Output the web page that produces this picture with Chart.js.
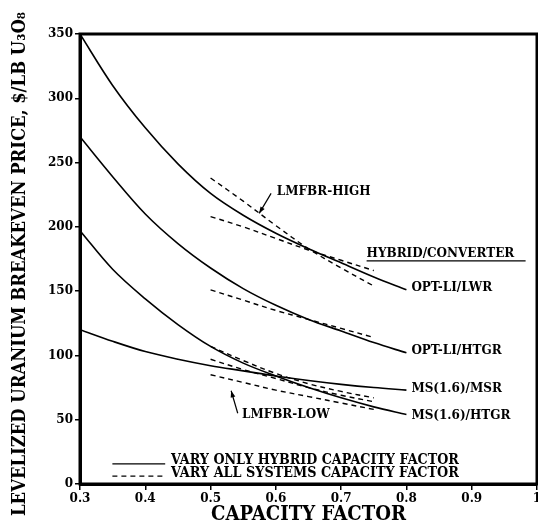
<!DOCTYPE html>
<html>
<head>
<meta charset="utf-8">
<script src="https://cdn.jsdelivr.net/npm/chart.js@4"></script>
<style>
  html, body { margin: 0; padding: 0; background: #fff; }
  canvas { display: block; }
</style>
</head>
<body>
<canvas id="breakevenChart" width="538" height="530"></canvas>
<script>
// Capacity factor values for the solid curves
const capacity = [0.3, 0.35, 0.4, 0.45, 0.5, 0.55, 0.6, 0.65, 0.7, 0.75, 0.8];

// Solid curves: vary only hybrid capacity factor ($/lb U3O8)
const optLiLwr = [350, 310, 277, 249, 226, 209, 195, 183, 172, 161, 151];
const optLiHtgr = [270, 239, 210, 187, 168, 152, 139, 128, 119, 110, 102];
const msMsr = [120, 111, 103, 97, 92, 88, 84, 80.5, 77.5, 75, 73];
const msHtgr = [197, 167, 144, 124, 107, 94, 84, 75, 67, 60, 54];

// Dashed curves: vary all systems capacity factor
const dashedCapacity = [0.5, 0.55, 0.6, 0.65, 0.7, 0.75];
const lwrHigh = [238, 220, 201, 183, 168, 154];
const lwrLow = [208, 200, 191, 182, 174, 166];
const htgrAll = [151, 143, 135, 128, 121, 114];
const msHtgrAll = [107, 96, 86, 78, 72, 67];
const msMsrAll = [97, 89, 82, 75, 69, 64];
const lmfbrLow = [85, 79, 73, 68, 63, 58];

// Axis ticks
const xTicks = [0.3, 0.4, 0.5, 0.6, 0.7, 0.8, 0.9, 1];
const yTicks = [0, 50, 100, 150, 200, 250, 300, 350];

// Text labels on the plot, placed in data units
const labelTexts = ['LMFBR-HIGH', 'HYBRID/CONVERTER', 'OPT-LI/LWR', 'OPT-LI/HTGR', 'MS(1.6)/MSR', 'MS(1.6)/HTGR', 'LMFBR-LOW'];
const labelX = [0.6015, 0.739, 0.8076, 0.8076, 0.8076, 0.8076, 0.5481];
const labelY = [227, 179, 152.5, 103.4, 73.9, 52.9, 53.7];
const labelWidths = [100, 159, 95, 104, 105, 105, 90];

const legendTexts = ['VARY ONLY HYBRID CAPACITY FACTOR', 'VARY ALL SYSTEMS CAPACITY FACTOR'];

function toPoints(xs, ys) {
    return xs.map((x, i) => ({ x: x, y: ys[i] }));
}

function solid(data) {
    return {
        data: data,
        borderColor: '#000',
        borderWidth: 1.6,
        pointRadius: 0,
        fill: false,
        tension: 0.35
    };
}

function dashed(data) {
    const ds = solid(data);
    ds.borderDash = [5, 4];
    ds.borderWidth = 1.4;
    return ds;
}

function arrow(ctx, x1, y1, x2, y2) {
    ctx.beginPath();
    ctx.moveTo(x1, y1);
    ctx.lineTo(x2, y2);
    ctx.stroke();
    const ang = Math.atan2(y2 - y1, x2 - x1);
    ctx.beginPath();
    ctx.moveTo(x2, y2);
    ctx.lineTo(x2 - 7 * Math.cos(ang - 0.35), y2 - 7 * Math.sin(ang - 0.35));
    ctx.lineTo(x2 - 7 * Math.cos(ang + 0.35), y2 - 7 * Math.sin(ang + 0.35));
    ctx.closePath();
    ctx.fill();
}

const serif = '"DejaVu Serif", "Liberation Serif", serif';

const overlay = {
    id: 'overlay',
    beforeDraw(chart) {
        const ctx = chart.ctx;
        ctx.save();
        ctx.fillStyle = '#fff';
        ctx.fillRect(0, 0, chart.width, chart.height);
        ctx.restore();
    },
    afterDraw(chart) {
        const { ctx, chartArea: a, scales: { x, y } } = chart;
        ctx.save();
        ctx.strokeStyle = '#000';
        ctx.fillStyle = '#000';

        // frame round the plot
        ctx.lineWidth = 3;
        ctx.strokeRect(a.left, a.top, a.right - a.left, a.bottom - a.top);

        // labels
        ctx.font = 'bold 12px ' + serif;
        ctx.textBaseline = 'middle';
        ctx.textAlign = 'left';
        labelTexts.forEach((t, i) => {
            ctx.fillText(t, x.getPixelForValue(labelX[i]), y.getPixelForValue(labelY[i]), labelWidths[i]);
        });
        // underline of HYBRID/CONVERTER
        ctx.lineWidth = 1.2;
        ctx.beginPath();
        const ux = x.getPixelForValue(labelX[1]);
        const uy = y.getPixelForValue(labelY[1]) + 7;
        ctx.moveTo(ux, uy);
        ctx.lineTo(ux + labelWidths[1], uy);
        ctx.stroke();

        // arrows to the LMFBR curves
        ctx.lineWidth = 1.2;
        arrow(ctx, x.getPixelForValue(0.5927), y.getPixelForValue(226), x.getPixelForValue(0.5745), y.getPixelForValue(210.5));
        arrow(ctx, x.getPixelForValue(0.5416), y.getPixelForValue(55), x.getPixelForValue(0.5315), y.getPixelForValue(72.5));

        // legend
        const lx1 = x.getPixelForValue(0.3496), lx2 = x.getPixelForValue(0.4305);
        ctx.lineWidth = 1.3;
        ctx.beginPath();
        ctx.moveTo(lx1, y.getPixelForValue(15.6));
        ctx.lineTo(lx2, y.getPixelForValue(15.6));
        ctx.stroke();
        ctx.setLineDash([5, 4]);
        ctx.beginPath();
        ctx.moveTo(lx1, y.getPixelForValue(6.2));
        ctx.lineTo(lx2, y.getPixelForValue(6.2));
        ctx.stroke();
        ctx.setLineDash([]);
        ctx.font = 'bold 14px ' + serif;
        ctx.fillText(legendTexts[0], x.getPixelForValue(0.4392), y.getPixelForValue(18.3), 288);
        ctx.fillText(legendTexts[1], x.getPixelForValue(0.4392), y.getPixelForValue(8.6), 288);

        // axis titles
        ctx.textAlign = 'center';
        ctx.font = 'bold 20px ' + serif;
        ctx.fillText('CAPACITY FACTOR', (a.left + a.right) / 2, 515, 195);
        ctx.translate(20, 264);
        ctx.rotate(-Math.PI / 2);
        ctx.font = 'bold 19px ' + serif;
        ctx.fillText('LEVELIZED URANIUM BREAKEVEN PRICE, $/LB U\u2083O\u2088', 0, 0, 504);
        ctx.restore();
    }
};

const ctx = document.getElementById('breakevenChart').getContext('2d');

new Chart(ctx, {
    type: 'line',
    data: {
        datasets: [
            solid(toPoints(capacity, optLiLwr)),
            solid(toPoints(capacity, optLiHtgr)),
            solid(toPoints(capacity, msMsr)),
            solid(toPoints(capacity, msHtgr)),
            dashed(toPoints(dashedCapacity, lwrHigh)),
            dashed(toPoints(dashedCapacity, lwrLow)),
            dashed(toPoints(dashedCapacity, htgrAll)),
            dashed(toPoints(dashedCapacity, msHtgrAll)),
            dashed(toPoints(dashedCapacity, msMsrAll)),
            dashed(toPoints(dashedCapacity, lmfbrLow))
        ]
    },
    options: {
        responsive: false,
        animation: false,
        layout: {
            autoPadding: false,
            padding: { top: 34, right: 1, left: 0, bottom: 0 }
        },
        plugins: {
            legend: { display: false },
            tooltip: { enabled: false }
        },
        scales: {
            x: {
                type: 'linear',
                min: 0.3,
                max: 1,
                afterFit: s => {
                    s.height = 46;
                    s.paddingLeft = 0;
                    s.paddingRight = 0;
                },
                afterBuildTicks: s => { s.ticks = xTicks.map(v => ({ value: v })); },
                ticks: {
                    color: '#000',
                    padding: 2,
                    maxRotation: 0,
                    font: { family: serif, size: 12, weight: 'bold' },
                    callback: v => (v === 1 ? '1' : v.toFixed(1))
                },
                grid: { drawOnChartArea: false, tickLength: 6, color: '#000', lineWidth: 1.5 },
                border: { display: true, color: '#000', width: 3 }
            },
            y: {
                min: 0,
                max: 350,
                afterFit: s => {
                    s.width = 80;
                    s.paddingTop = 0;
                    s.paddingBottom = 0;
                },
                afterBuildTicks: s => { s.ticks = yTicks.map(v => ({ value: v })); },
                ticks: {
                    color: '#000',
                    padding: 2,
                    font: { family: serif, size: 12, weight: 'bold' }
                },
                grid: { drawOnChartArea: false, tickLength: 5, color: '#000', lineWidth: 1.5 },
                border: { display: true, color: '#000', width: 3 }
            }
        }
    },
    plugins: [overlay]
});
</script>
</body>
</html>
